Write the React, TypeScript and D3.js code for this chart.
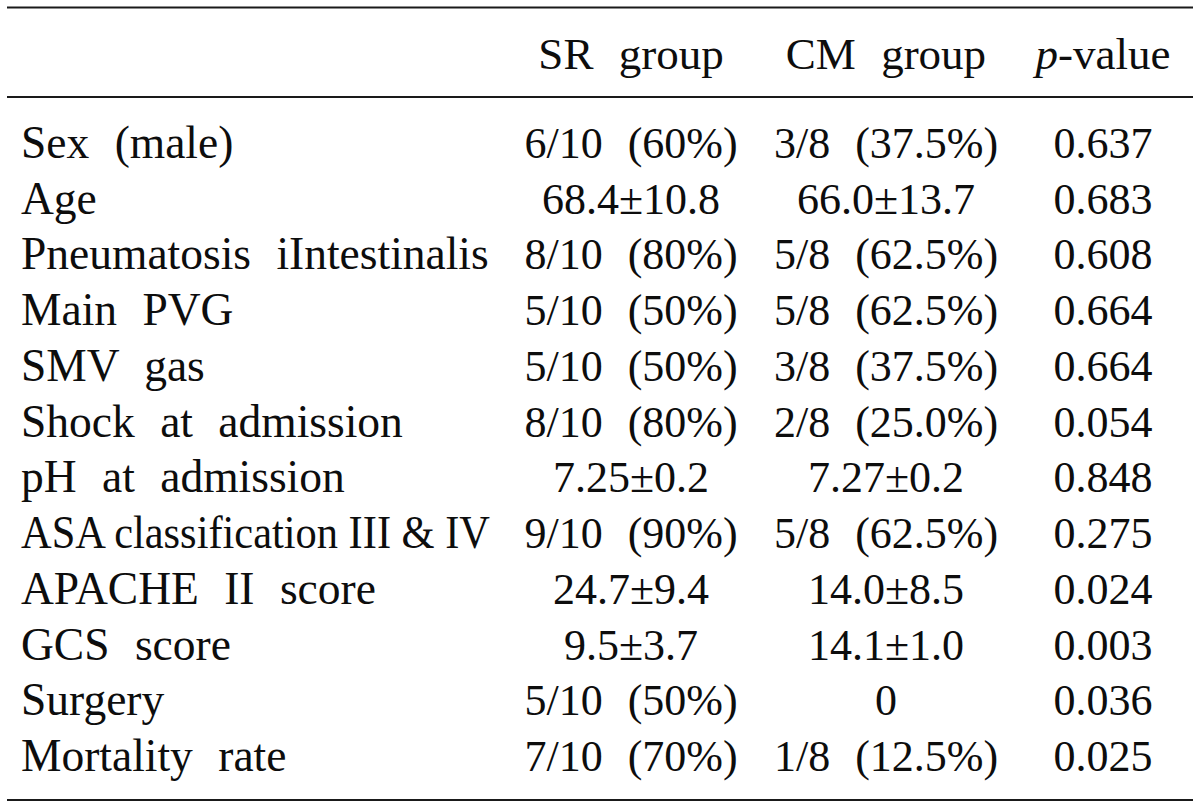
import React, { useEffect, useRef } from "react";
import * as d3 from "d3";

const rowLabels = [
  "Sex (male)",
  "Age",
  "Pneumatosis iIntestinalis",
  "Main PVG",
  "SMV gas",
  "Shock at admission",
  "pH at admission",
  "ASA classification III & IV",
  "APACHE II score",
  "GCS score",
  "Surgery",
  "Mortality rate",
];
const srValues = [
  "6/10 (60%)",
  "68.4±10.8",
  "8/10 (80%)",
  "5/10 (50%)",
  "5/10 (50%)",
  "8/10 (80%)",
  "7.25±0.2",
  "9/10 (90%)",
  "24.7±9.4",
  "9.5±3.7",
  "5/10 (50%)",
  "7/10 (70%)",
];
const cmValues = [
  "3/8 (37.5%)",
  "66.0±13.7",
  "5/8 (62.5%)",
  "5/8 (62.5%)",
  "3/8 (37.5%)",
  "2/8 (25.0%)",
  "7.27±0.2",
  "5/8 (62.5%)",
  "14.0±8.5",
  "14.1±1.0",
  "0",
  "1/8 (12.5%)",
];
const pValues = [
  "0.637", "0.683", "0.608", "0.664", "0.664", "0.054",
  "0.848", "0.275", "0.024", "0.003", "0.036", "0.025",
];
const columnKeys = ["sr", "cm", "p"];
const headerLabels = ["SR group", "CM group", "-value"];

const W = 1200;
const H = 806;
const FONT = '"Liberation Serif", "Times New Roman", serif';
const FS = 44;
const FS_LABEL = 45.5;
const FS_HEADER = 45;

export default function App() {
  const ref = useRef<SVGSVGElement | null>(null);

  useEffect(() => {
    const svg = d3.select(ref.current);
    svg.selectAll("*").remove();

    const y = d3.scalePoint<string>().domain(rowLabels).range([158, 771]);
    const x = d3.scaleOrdinal<string, number>().domain(columnKeys).range([631, 886, 1103]);
    const labelX = 21;
    const labelMaxW = 469;

    const g = svg
      .append("g")
      .style("font-family", FONT)
      .style("font-size", `${FS}px`)
      .style("fill", "#0d0d0d")
      .style("word-spacing", "14px");

    // rules
    const rules = [7.5, 97, 800];
    svg
      .selectAll("line.rule")
      .data(rules)
      .join("line")
      .attr("class", "rule")
      .attr("x1", 7)
      .attr("x2", 1193)
      .attr("y1", (d) => d)
      .attr("y2", (d) => d)
      .attr("stroke", "#1a1a1a")
      .attr("stroke-width", 2);

    // header
    const hdr = g
      .selectAll("text.hdr")
      .data(columnKeys)
      .join("text")
      .attr("class", "hdr")
      .attr("x", (d) => x(d))
      .attr("y", 69)
      .attr("text-anchor", "middle")
      .style("font-size", `${FS_HEADER}px`);
    hdr.each(function (d, i) {
      const t = d3.select(this);
      if (d === "p") {
        t.append("tspan").style("font-style", "italic").text("p");
        t.append("tspan").text(headerLabels[i]);
      } else {
        t.text(headerLabels[i]);
      }
    });

    // row labels
    g.selectAll("text.lbl")
      .data(rowLabels)
      .join("text")
      .attr("class", "lbl")
      .attr("x", labelX)
      .attr("y", (d) => y(d) as number)
      .style("font-size", `${FS_LABEL}px`)
      .text((d) => d)
      .each(function () {
        const el = this as SVGTextElement;
        const w = el.getComputedTextLength();
        if (w > labelMaxW) {
          el.style.wordSpacing = "0px";
          el.setAttribute("textLength", String(labelMaxW));
          el.setAttribute("lengthAdjust", "spacingAndGlyphs");
        }
      });

    const cols: [string, string[]][] = [
      ["sr", srValues],
      ["cm", cmValues],
      ["p", pValues],
    ];
    cols.forEach(([key, vals]) => {
      g.selectAll(`text.v-${key}`)
        .data(vals)
        .join("text")
        .attr("class", `v-${key}`)
        .attr("x", x(key))
        .attr("y", (_, i) => y(rowLabels[i]) as number)
        .attr("text-anchor", "middle")
        .text((d) => d);
    });
  }, []);

  return (
    <svg
      ref={ref}
      width={W}
      height={H}
      viewBox={`0 0 ${W} ${H}`}
      style={{ position: "absolute", left: 0, top: 0, background: "#fff" }}
    />
  );
}
